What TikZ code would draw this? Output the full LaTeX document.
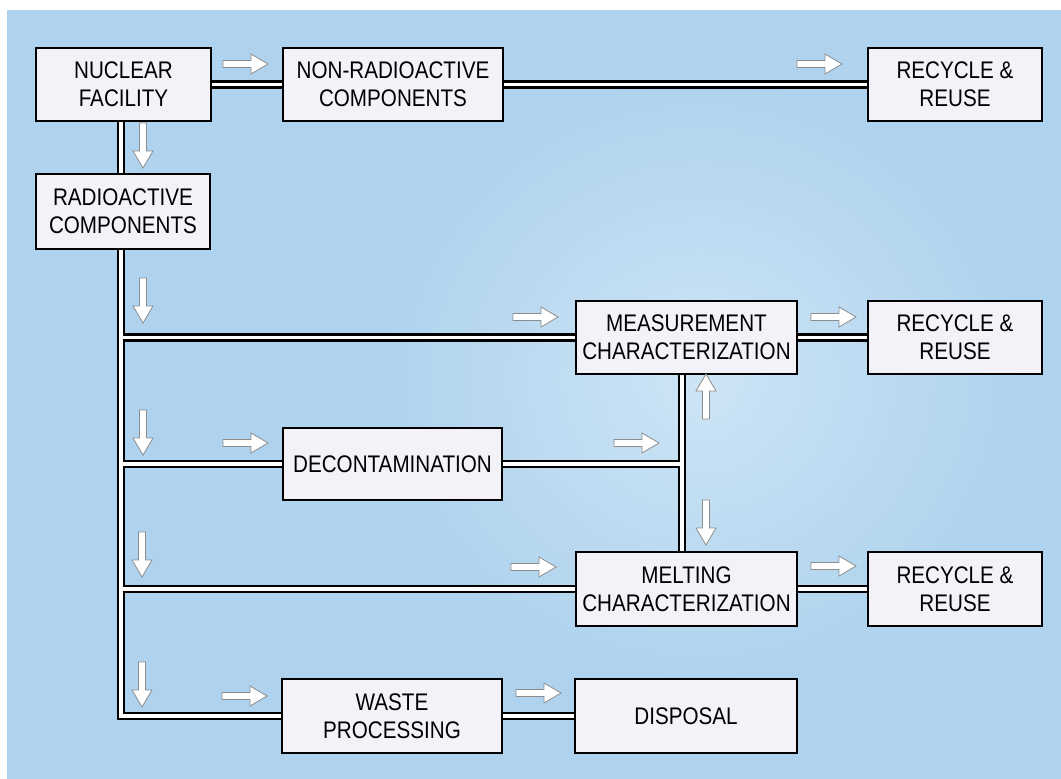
\documentclass[tikz,border=0pt]{standalone}
\usepackage{fontspec}
\setmainfont{Liberation Sans}[FakeStretch=0.86]
\definecolor{bgblue}{HTML}{AFD3EE}
\definecolor{bglight}{HTML}{CDE4F5}
\definecolor{boxfill}{HTML}{F3F2F8}
\definecolor{arrowedge}{HTML}{8C8C8C}
\pgfdeclarelayer{back}
\pgfdeclarelayer{lines}
\pgfsetlayers{back,lines,main}
\tikzset{
  box/.style={draw=black, line width=1.8pt, fill=boxfill, inner sep=0pt,
    align=center, font=\fontsize{24}{28}\selectfont},
  conn/.style={draw=black, line width=2.5pt, double=white, double distance=3.8pt},
  arrowline/.style={draw=arrowedge, line width=0.8pt, fill=white, line join=miter},
  blockarrow/.pic={
    \path[arrowline] (0,-3.5) -- (28,-3.5) -- (28,-10) -- (45,0) -- (28,10)
      -- (28,3.5) -- (0,3.5) -- cycle;
  }
}
\begin{document}
\begin{tikzpicture}[x=1pt,y=-1pt]
\useasboundingbox (0,0) rectangle (1061,779);

% page background
\begin{pgfonlayer}{back}
  \fill[white] (0,0) rectangle (1061,779);
  \fill[bgblue] (7,10) rectangle (1061,779);
  \begin{scope}
    \clip (7,10) rectangle (1061,779);
    \shade[inner color=bglight, outer color=bgblue] (700,380) ellipse [x radius=320, y radius=300];
  \end{scope}
\end{pgfonlayer}

% process boxes
\node[box, minimum width=175pt, minimum height=73pt] (nf)    at (123.5,84.5) {NUCLEAR\\FACILITY};
\node[box, minimum width=220pt, minimum height=73pt] (nr)    at (393,84.5)   {NON-RADIOACTIVE\\COMPONENTS};
\node[box, minimum width=174pt, minimum height=73pt] (rr1)   at (955,84.5)   {RECYCLE \&\\REUSE};
\node[box, minimum width=174pt, minimum height=75pt] (radio) at (123,211.5)  {RADIOACTIVE\\COMPONENTS};
\node[box, minimum width=221pt, minimum height=73pt] (meas)  at (686.5,337.5) {MEASUREMENT\\CHARACTERIZATION};
\node[box, minimum width=174pt, minimum height=73pt] (rr2)   at (955,337.5)  {RECYCLE \&\\REUSE};
\node[box, minimum width=219pt, minimum height=72pt] (decon) at (392.5,464)  {DECONTAMINATION};
\node[box, minimum width=221pt, minimum height=74pt] (melt)  at (686.5,589)  {MELTING\\CHARACTERIZATION};
\node[box, minimum width=174pt, minimum height=74pt] (rr3)   at (955,589)    {RECYCLE \&\\REUSE};
\node[box, minimum width=220pt, minimum height=74pt] (waste) at (392,716)    {WASTE\\PROCESSING};
\node[box, minimum width=222pt, minimum height=74pt] (disp)  at (686,716)    {DISPOSAL};

% trunk lines
\coordinate (spine) at (121,0);
\coordinate (riser) at (682,0);

% double-line connectors, stroked as one path so junctions merge
\begin{pgfonlayer}{lines}
\draw[conn]
  (nf.east) -- (nr.west)
  (nr.east) -- (rr1.west)
  (nf.south -| spine) -- (radio.north -| spine)
  (radio.south -| spine) |- (waste.west)
  (spine |- meas.west) -- (meas.west)
  (spine |- decon.west) -- (decon.west)
  (spine |- melt.west) -- (melt.west)
  (waste.east) -- (disp.west)
  (meas.east) -- (rr2.west)
  (melt.east) -- (rr3.west)
  (meas.south -| riser) -- (melt.north -| riser)
  (decon.east) -- (riser |- decon.east);
\end{pgfonlayer}

% flow direction arrows
\pic at (223,64) {blockarrow};
\pic at (797,64) {blockarrow};
\pic at (513,317) {blockarrow};
\pic at (811,317) {blockarrow};
\pic at (223,443) {blockarrow};
\pic at (614,443) {blockarrow};
\pic at (511,567) {blockarrow};
\pic at (811,566) {blockarrow};
\pic at (222,696) {blockarrow};
\pic at (516,693) {blockarrow};
\pic[rotate=-90] at (143,123) {blockarrow};
\pic[rotate=-90] at (143,278) {blockarrow};
\pic[rotate=-90] at (143,410) {blockarrow};
\pic[rotate=-90] at (142,532) {blockarrow};
\pic[rotate=-90] at (142,662) {blockarrow};
\pic[rotate=-90] at (706,500) {blockarrow};
\pic[rotate=90]  at (706,419) {blockarrow};
\end{tikzpicture}
\end{document}
